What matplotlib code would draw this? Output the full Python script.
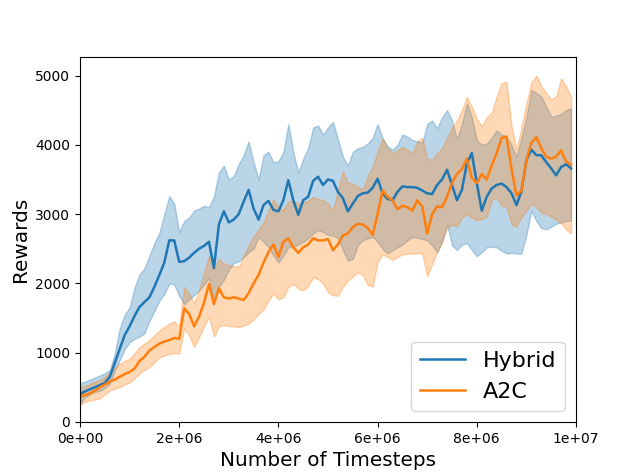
import numpy as np
import matplotlib
matplotlib.use("Agg")
import matplotlib.pyplot as plt
from matplotlib.ticker import FuncFormatter

# timesteps (in units of 1e6)
steps_m = [i / 10 for i in range(100)]

hybrid_mean = [400, 440, 470, 500, 530, 560, 650, 850, 1050, 1250,
               1380, 1530, 1660, 1730, 1800, 1950, 2120, 2300, 2620, 2620,
               2310, 2320, 2370, 2440, 2500, 2540, 2600, 2220, 2850, 3040,
               2880, 2920, 3000, 3180, 3350, 3080, 2920, 3130, 3190, 3060,
               3040, 3200, 3490, 3200, 2990, 3200, 3250, 3480, 3540, 3420,
               3500, 3480, 3320, 3230, 3040, 3150, 3260, 3300, 3310, 3380,
               3510, 3300, 3220, 3200, 3320, 3400, 3390, 3390, 3380, 3340,
               3300, 3290, 3420, 3500, 3640, 3420, 3200, 3350, 3730, 3880,
               3450, 3050, 3250, 3370, 3420, 3440, 3390, 3300, 3130, 3330,
               3780, 3930, 3850, 3850, 3750, 3660, 3560, 3680, 3720, 3660]
hybrid_upper = [560, 580, 610, 640, 670, 700, 750, 980, 1350, 1550,
                1650, 1940, 2130, 2220, 2400, 2580, 2730, 3000, 3260, 3150,
                2740, 2900, 2950, 3050, 3080, 3120, 3100, 3250, 3600, 3700,
                3500, 3550, 3720, 3850, 4050, 3750, 3500, 3850, 3900, 3750,
                3760, 3900, 4300, 3900, 3600, 3800, 3950, 4250, 4280, 4150,
                4250, 4330, 4080, 3830, 3700, 3900, 3950, 3970, 4020, 4100,
                4300, 4100, 3980, 3930, 4000, 4150, 4120, 4070, 4050, 4030,
                4300, 4350, 4240, 4400, 4500, 4350, 4080, 4300, 4600, 4400,
                4070, 4000, 4020, 4100, 4210, 4150, 4120, 4000, 3830, 4100,
                4400, 4790, 4750, 4700, 4550, 4410, 4420, 4450, 4500, 4530]
hybrid_lower = [260, 350, 400, 430, 450, 490, 550, 740, 890, 1050,
                1150, 1200, 1230, 1280, 1460, 1600, 1750, 1850, 2000, 1980,
                1820, 1700, 1770, 1830, 1900, 1980, 2080, 1720, 1950, 2050,
                2200, 2290, 2320, 2380, 2450, 2500, 2670, 2600, 2520, 2400,
                2300, 2400, 2520, 2530, 2560, 2600, 2650, 2720, 2770, 2740,
                2700, 2690, 2650, 2480, 2330, 2350, 2550, 2620, 2650, 2670,
                2600, 2500, 2430, 2480, 2520, 2560, 2620, 2670, 2660, 2640,
                2620, 2550, 2450, 2600, 2850, 2550, 2480, 2560, 2580, 2480,
                2390, 2450, 2520, 2530, 2520, 2470, 2430, 2440, 2430, 2430,
                2700, 3050, 2900, 2800, 2780, 2820, 2860, 2880, 2900, 2910]

a2c_mean = [360, 390, 410, 450, 500, 540, 580, 610, 650, 690,
            720, 770, 880, 940, 1030, 1080, 1130, 1160, 1180, 1210,
            1200, 1640, 1560, 1380, 1520, 1720, 1990, 1700, 1930, 1800,
            1780, 1800, 1780, 1760, 1860, 2000, 2120, 2300, 2450, 2560,
            2380, 2600, 2650, 2520, 2440, 2520, 2560, 2650, 2620, 2620,
            2640, 2480, 2560, 2690, 2720, 2810, 2860, 2850, 2800, 2700,
            3000, 3340, 3250, 3200, 3070, 3120, 3100, 3050, 3200, 3110,
            2720, 3000, 3110, 3100, 3250, 3450, 3580, 3650, 3800, 3520,
            3450, 3580, 3500, 3700, 3880, 4100, 4120, 3650, 3270, 3340,
            3780, 4030, 4110, 3950, 3830, 3800, 3830, 3920, 3760, 3710]
a2c_upper = [500, 520, 550, 580, 600, 650, 720, 790, 840, 880,
             910, 990, 1080, 1130, 1180, 1250, 1320, 1370, 1420, 1450,
             1380, 1950, 1850, 1720, 1900, 2150, 2400, 2200, 2350, 2290,
             2260, 2250, 2240, 2400, 2550, 2680, 2780, 2880, 3050, 3220,
             3100, 3060, 3180, 3200, 3150, 3160, 3200, 3250, 3220, 3200,
             3150, 3050, 3350, 3620, 3450, 3440, 3400, 3350, 3550, 3690,
             3900, 4090, 3950, 3880, 3920, 3970, 3930, 3880, 4050, 4100,
             3800, 3780, 3880, 3950, 4100, 4250, 4350, 4500, 4690, 4550,
             4380, 4270, 4400, 4460, 4700, 4890, 4910, 4270, 3930, 4250,
             4600, 4900, 5000, 4850, 4750, 4650, 4700, 4960, 4850, 4700]
a2c_lower = [250, 290, 310, 320, 340, 400, 450, 480, 500, 540,
             570, 630, 700, 750, 790, 860, 930, 960, 980, 990,
             990, 1350, 1250, 1080, 1220, 1380, 1520, 1230, 1380, 1400,
             1380, 1380, 1370, 1390, 1420, 1480, 1560, 1620, 1750, 1850,
             1770, 1800, 1950, 1990, 1920, 1900, 1960, 2090, 2060, 2000,
             1870, 1830, 1820, 1950, 2040, 2100, 2160, 2120, 1980, 1950,
             2300, 2420, 2380, 2340, 2380, 2420, 2430, 2430, 2440, 2430,
             2100, 2280, 2450, 2600, 2800, 2850, 2820, 2950, 3000, 2950,
             2910, 2930, 2960, 3200, 3240, 3120, 3100, 2850, 2820, 2960,
             3050, 3150, 3100, 3020, 3000, 2960, 2920, 2870, 2780, 2720]

labels = ["Hybrid", "A2C"]

t = np.array(steps_m) * 1e6

fig, ax = plt.subplots(figsize=(6.4, 4.74), dpi=100)
ax.plot(t, hybrid_mean, color="C0", lw=1.8, label=labels[0])
ax.fill_between(t, hybrid_lower, hybrid_upper, color="C0", alpha=0.3)
ax.plot(t, a2c_mean, color="C1", lw=1.8, label=labels[1])
ax.fill_between(t, a2c_lower, a2c_upper, color="C1", alpha=0.3)

ax.set_xlim(0, 1e7)
ax.set_ylim(0, 5270)
ax.xaxis.set_major_formatter(FuncFormatter(lambda v, p: "%.0e" % v))
ax.set_xticks([0, 2e6, 4e6, 6e6, 8e6, 1e7])
ax.set_xlabel("Number of Timesteps", fontsize=14.4)
ax.set_ylabel("Rewards", fontsize=14.4)
ax.legend(loc="lower right", fontsize=16)

fig.savefig("out.png", dpi=100)
